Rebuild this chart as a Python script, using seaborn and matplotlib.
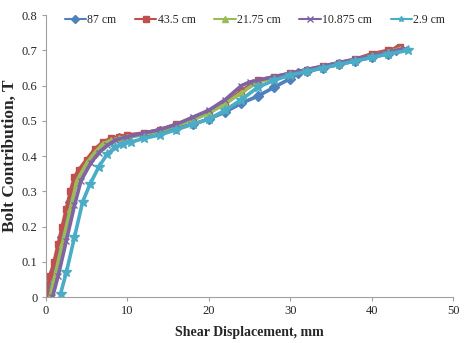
import matplotlib
matplotlib.use("Agg")
import matplotlib.pyplot as plt
import seaborn as sns
import pandas as pd

labels = ["87 cm", "43.5 cm", "21.75 cm", "10.875 cm", "2.9 cm"]
colors = ["#4F81BD", "#C0504D", "#9BBB59", "#8064A2", "#4BACC6"]
markers = ["D", "s", "^", "x", "*"]

x_87 = [0.3, 1, 2, 3, 3.8, 5, 6, 7, 8, 9, 10, 12, 14, 16, 18, 20, 22, 24, 26, 28, 30, 31, 32, 34, 36, 38, 40, 42, 43]
y_87 = [0.0, 0.07, 0.17, 0.27, 0.33, 0.38, 0.41, 0.43, 0.445, 0.45, 0.455, 0.46, 0.47, 0.48, 0.49, 0.505, 0.525, 0.55, 0.57, 0.595, 0.62, 0.635, 0.64, 0.65, 0.66, 0.67, 0.68, 0.69, 0.70]

x_435 = [0, 0.5, 1, 1.5, 2, 2.5, 3, 3.5, 4, 5, 6, 7, 8, 9, 10, 12, 14, 16, 18, 20, 22, 24, 26, 28, 30, 32, 34, 36, 38, 40, 42, 43.5]
y_435 = [0.01, 0.06, 0.1, 0.15, 0.2, 0.25, 0.3, 0.34, 0.36, 0.39, 0.42, 0.44, 0.45, 0.455, 0.46, 0.465, 0.475, 0.49, 0.505, 0.525, 0.55, 0.585, 0.615, 0.625, 0.635, 0.645, 0.655, 0.665, 0.675, 0.69, 0.70, 0.71]

x_2175 = [0.5, 1, 2, 3, 3.8, 5, 6, 7, 8, 9, 10, 12, 14, 16, 18, 20, 22, 24, 26, 28, 30, 32, 34, 36, 38, 40, 42, 43.5]
y_2175 = [0.0, 0.05, 0.15, 0.25, 0.33, 0.38, 0.41, 0.435, 0.445, 0.45, 0.455, 0.462, 0.472, 0.487, 0.502, 0.522, 0.548, 0.58, 0.61, 0.622, 0.632, 0.642, 0.652, 0.662, 0.672, 0.685, 0.695, 0.705]

x_10875 = [0.8, 1.5, 2.5, 3.5, 4.3, 5.5, 6.5, 7.5, 8.5, 10, 12, 14, 16, 18, 20, 22, 24, 25, 26, 28, 30, 32, 34, 36, 38, 40, 42, 44]
y_10875 = [0.0, 0.06, 0.16, 0.26, 0.33, 0.38, 0.41, 0.43, 0.445, 0.455, 0.465, 0.475, 0.49, 0.51, 0.53, 0.56, 0.6, 0.61, 0.615, 0.625, 0.635, 0.645, 0.655, 0.665, 0.675, 0.685, 0.695, 0.705]

x_29 = [1.8, 2.5, 3.5, 4.5, 5.4, 6.5, 7.5, 8.5, 9.5, 10.5, 12, 14, 16, 18, 20, 22, 24, 26, 28, 30, 32, 34, 36, 38, 40, 42, 44.5]
y_29 = [0.01, 0.07, 0.17, 0.27, 0.32, 0.37, 0.405, 0.425, 0.435, 0.44, 0.45, 0.46, 0.475, 0.49, 0.505, 0.53, 0.56, 0.595, 0.615, 0.63, 0.64, 0.65, 0.66, 0.67, 0.68, 0.69, 0.70]

xs = [x_87, x_435, x_2175, x_10875, x_29]
ys = [y_87, y_435, y_2175, y_10875, y_29]

sns.set_theme(style="white")
plt.rcParams["font.family"] = ["Liberation Serif", "DejaVu Serif"]

fig = plt.figure(figsize=(4.74, 3.43), dpi=100)
ax = fig.add_axes([0.097, 0.134, 0.859, 0.822])

for x, y, lab, c, m in zip(xs, ys, labels, colors, markers):
    d = pd.DataFrame({"x": x, "y": y})
    sns.lineplot(data=d, x="x", y="y", color=c, marker=m, sort=False,
                 linewidth=2.6, markersize=5 if m != "*" else 7,
                 markeredgewidth=1.0, markeredgecolor=c, label=lab, ax=ax)

ax.set_xlim(0, 50)
ax.set_ylim(0, 0.8)
ax.set_xticks([0, 10, 20, 30, 40, 50])
ax.set_yticks([0, 0.1, 0.2, 0.3, 0.4, 0.5, 0.6, 0.7, 0.8])
ax.set_yticklabels(["0", "0.1", "0.2", "0.3", "0.4", "0.5", "0.6", "0.7", "0.8"])
ax.tick_params(axis="both", labelsize=9, length=3, width=0.8, color="#A0A0A0",
               direction="out", bottom=True, left=True, pad=3)
for s in ["top", "right"]:
    ax.spines[s].set_visible(False)
for s in ["left", "bottom"]:
    ax.spines[s].set_color("#A0A0A0")
    ax.spines[s].set_linewidth(0.8)

ax.set_xlabel("Shear Displacement, mm", fontsize=10, fontweight="bold", labelpad=6)
ax.set_ylabel("Bolt Contribution, T", fontsize=12.5, fontweight="bold", labelpad=3)

leg = ax.legend(loc="upper center", bbox_to_anchor=(0.513, 1.02), ncol=5, frameon=False,
                fontsize=8.5, handlelength=1.8, handletextpad=0.1, columnspacing=1.6,
                borderaxespad=0)
for h in leg.legend_handles:
    h.set_linewidth(1.5)
    h.set_markersize(4)

fig.savefig("out.png", dpi=100)
